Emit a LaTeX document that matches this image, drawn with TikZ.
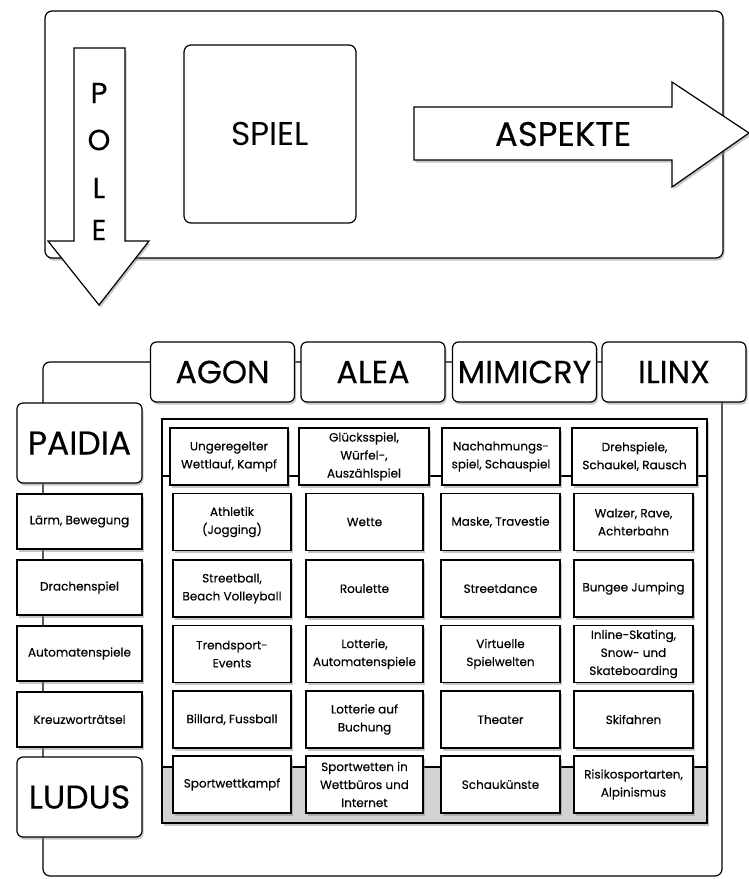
\documentclass[tikz,border=0pt]{standalone}
\usepackage{fontspec}
\setmainfont{Poppins}
\newfontfamily\medfont{Poppins}[FakeBold=0.25]
\usetikzlibrary{shadows}
\begin{document}
\begin{tikzpicture}[x=1pt,y=-1pt,line width=1.2pt,
  shad/.style={drop shadow={shadow xshift=1.5pt,shadow yshift=-2.5pt,opacity=0.45}},
  hdr/.style={draw, rounded corners=6pt, fill=white, shad, minimum width=144pt, minimum height=60pt, inner sep=0pt, outer sep=0pt, font=\medfont\fontsize{32}{34}\selectfont},
  cell/.style={draw, fill=white, shad, align=center, inner sep=0pt, outer sep=0pt, minimum height=57pt, font=\medfont\fontsize{12}{18}\selectfont},
  side/.style={draw, fill=white, shad, align=center, inner sep=0pt, outer sep=0pt, minimum width=125pt, minimum height=55pt, font=\medfont\fontsize{12}{16}\selectfont},
  pole/.style={draw, rounded corners=6pt, fill=white, shad, minimum width=125pt, minimum height=80pt, inner sep=0pt, outer sep=0pt, font=\medfont\fontsize{33}{35}\selectfont},
  letter/.style={font=\medfont\fontsize{29}{30}\selectfont, inner sep=0pt}]
\useasboundingbox (0,0) rectangle (749,879);
% ---------- top part ----------
\node[draw, rounded corners=7pt, fill=white, shad, minimum width=678pt, minimum height=247pt, inner sep=0pt] (top) at (384,134.5) {};
\node[draw, rounded corners=7pt, fill=white, minimum width=172pt, minimum height=178pt, inner sep=0pt, font=\fontsize{33}{35}\selectfont] (spiel) at (270,134) {SPIEL};
\draw[fill=white, shad] (74,48) -- (125,48) -- (125,241) -- (149,241) -- (99,305) -- (48,241) -- (74,241) -- cycle;
\node[letter] (p) at (99,93) {P};
\node[letter] (o) at (99,140) {O};
\node[letter] (l) at (99,188) {L};
\node[letter] (e) at (99,230) {E};
\draw[fill=white, shad] (414,107) -- (672,107) -- (672,82) -- (749,133) -- (672,187) -- (672,160) -- (414,160) -- cycle;
\node[font=\medfont\fontsize{34}{36}\selectfont, inner sep=0pt] (aspekte) at (563,134) {ASPEKTE};
% ---------- bottom frame ----------
\draw[rounded corners=7pt] (43,362) rectangle (722,876);
% table frame
\draw[fill=white, shad] (162,419) rectangle (707,823);
\draw[fill=gray!35] (162,767) rectangle (707,823);
\draw (162,476) -- (707,476);
% headers
\node[hdr] (agon) at (222.5,372) {AGON};
\node[hdr] (alea) at (373,372) {ALEA};
\node[hdr] (mimicry) at (524.5,372) {MIMICRY};
\node[hdr] (ilinx) at (674,372) {ILINX};
% left column
\node[pole] (paidia) at (79.5,443) {PAIDIA};
\node[side] (s1) at (79.5,521.5) {Lärm, Bewegung};
\node[side] (s2) at (79.5,587.5) {Drachenspiel};
\node[side] (s3) at (79.5,653.5) {Automatenspiele};
\node[side] (s4) at (79.5,719.5) {Kreuzworträtsel};
\node[pole] (ludus) at (79.5,797) {LUDUS};
% row 1
\node[cell, minimum width=118pt] (c11) at (229,456.5) {Ungeregelter\\Wettlauf, Kampf};
\node[cell, minimum width=130pt] (c12) at (364,456.5) {Glücksspiel,\\Würfel-,\\Auszählspiel};
\node[cell, minimum width=118pt] (c13) at (501,456.5) {Nachahmungs-\\spiel, Schauspiel};
\node[cell, minimum width=125pt] (c14) at (634.5,456.5) {Drehspiele,\\Schaukel, Rausch};
% row 2
\node[cell, minimum width=118pt] (c21) at (232,522) {Athletik\\(Jogging)};
\node[cell, minimum width=117pt] (c22) at (364.5,522) {Wette};
\node[cell, minimum width=119pt] (c23) at (500.5,522) {Maske, Travestie};
\node[cell, minimum width=119pt] (c24) at (633.5,522) {Walzer, Rave,\\Achterbahn};
% row 3
\node[cell, minimum width=118pt] (c31) at (232,588.5) {Streetball,\\Beach Volleyball};
\node[cell, minimum width=117pt] (c32) at (364.5,588.5) {Roulette};
\node[cell, minimum width=119pt] (c33) at (500.5,588.5) {Streetdance};
\node[cell, minimum width=119pt] (c34) at (633.5,588.5) {Bungee Jumping};
% row 4
\node[cell, minimum width=118pt] (c41) at (232,654) {Trendsport-\\Events};
\node[cell, minimum width=117pt] (c42) at (364.5,654) {Lotterie,\\Automatenspiele};
\node[cell, minimum width=119pt] (c43) at (500.5,654) {Virtuelle\\Spielwelten};
\node[cell, minimum width=119pt] (c44) at (633.5,654) {Inline-Skating,\\Snow- und\\Skateboarding};
% row 5
\node[cell, minimum width=118pt] (c51) at (232,719.5) {Billard, Fussball};
\node[cell, minimum width=117pt] (c52) at (364.5,719.5) {Lotterie auf\\Buchung};
\node[cell, minimum width=119pt] (c53) at (500.5,719.5) {Theater};
\node[cell, minimum width=119pt] (c54) at (633.5,719.5) {Skifahren};
% row 6
\node[cell, minimum width=118pt] (c61) at (232,784.5) {Sportwettkampf};
\node[cell, minimum width=117pt] (c62) at (364.5,784.5) {Sportwetten in\\Wettbüros und\\Internet};
\node[cell, minimum width=119pt] (c63) at (500.5,784.5) {Schaukünste};
\node[cell, minimum width=119pt] (c64) at (633.5,784.5) {Risikosportarten,\\Alpinismus};
\end{tikzpicture}
\end{document}
